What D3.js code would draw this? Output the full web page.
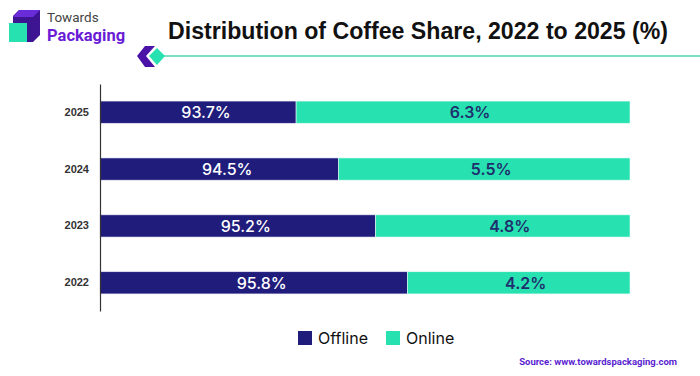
<!DOCTYPE html>
<html>
<head>
<meta charset="utf-8">
<script src="https://cdn.jsdelivr.net/npm/d3@7"></script>
<style>
  body { margin: 0; background: #fff; }
  svg { display: block; font-family: Inter, "Liberation Sans", Arial, sans-serif; }
</style>
</head>
<body>
<div id="chart"></div>
<script>
// data
const years = ["2025", "2024", "2023", "2022"];
const offline = [93.7, 94.5, 95.2, 95.8];
const online = [6.3, 5.5, 4.8, 4.2];
const seriesNames = ["Offline", "Online"];
const colors = ["#201c7c", "#27e2b0"];

const W = 700, H = 376;
const svg = d3.select("#chart").append("svg")
    .attr("width", W)
    .attr("height", H);

// logo
const logo = svg.append("g");
logo.append("path")
    .attr("d", "M13,16 L19,10 L40,10 L40,35 L33,42 L13,42 Z")
    .attr("fill", "#3d1592");
logo.append("path")
    .attr("d", "M19,10 L40,10 L33,17 L13,17 Z")
    .attr("fill", "#6a2bd9");
logo.append("rect")
    .attr("x", 9).attr("y", 23).attr("width", 18).attr("height", 19)
    .attr("fill", "#27e2b0");
logo.append("text")
    .attr("x", 47).attr("y", 22)
    .attr("font-family", "Roboto, sans-serif")
    .attr("font-size", 13.5)
    .attr("fill", "#444")
    .text("Towards");
logo.append("text")
    .attr("x", 47).attr("y", 41)
    .attr("font-family", "Roboto, sans-serif")
    .attr("font-weight", "bold")
    .attr("font-size", 16.5)
    .attr("fill", "#6a1bd6")
    .text("Packaging");

// title + decoration
svg.append("text")
    .attr("x", 168).attr("y", 39)
    .attr("font-family", "Liberation Sans, Arial, sans-serif")
    .attr("font-weight", "bold")
    .attr("font-size", 23)
    .attr("fill", "#111")
    .attr("textLength", 500)
    .attr("lengthAdjust", "spacingAndGlyphs")
    .text("Distribution of Coffee Share, 2022 to 2025 (%)");

svg.append("line")
    .attr("x1", 160).attr("x2", 700).attr("y1", 56).attr("y2", 56)
    .attr("stroke", "#4fd6b0").attr("stroke-width", 1.5);
svg.append("path")
    .attr("d", "M145,46 L155,46 L146,56 L155,67 L145,67 L137,56 Z")
    .attr("fill", "#4b12a8");
svg.append("path")
    .attr("d", "M157,48 L165,56 L157,65 L149,56 Z")
    .attr("fill", "#27e2b0");

// scales
const x = d3.scaleLinear().domain([90, 100]).range([100, 630]);
const y = d3.scaleBand().domain(years).range([84, 311]).paddingInner(0.61).paddingOuter(0.3);

const rows = years.map((yr, i) => ({ year: yr, offline: offline[i], online: online[i] }));

const bars = svg.append("g");
rows.forEach(d => {
    const yy = y(d.year), bw = y.bandwidth();
    bars.append("rect")
        .attr("x", x(90)).attr("y", yy)
        .attr("width", x(d.offline) - x(90)).attr("height", bw)
        .attr("fill", colors[0])
        .attr("stroke", "#e8e8f4").attr("stroke-width", 0.6);
    bars.append("rect")
        .attr("x", x(d.offline)).attr("y", yy)
        .attr("width", x(100) - x(d.offline)).attr("height", bw)
        .attr("fill", colors[1])
        .attr("stroke", "#e8fbf5").attr("stroke-width", 0.6);

    bars.append("text")
        .attr("x", (x(90) + x(d.offline)) / 2 + 8)
        .attr("y", yy + bw / 2)
        .attr("dy", "0.36em")
        .attr("text-anchor", "middle")
        .attr("font-size", 16)
        .attr("font-weight", 500)
        .attr("fill", "#fff")
        .text(d.offline.toFixed(1) + "%");
    bars.append("text")
        .attr("x", (x(d.offline) + x(100)) / 2 + 7)
        .attr("y", yy + bw / 2)
        .attr("dy", "0.36em")
        .attr("text-anchor", "middle")
        .attr("font-size", 16)
        .attr("font-weight", 600)
        .attr("fill", "#1f2f6e")
        .text(d.online.toFixed(1) + "%");
});

// y axis
const yAxis = d3.axisLeft(y).tickSize(0).tickPadding(11);
const gy = svg.append("g")
    .attr("transform", "translate(100,0)")
    .call(yAxis);
gy.select(".domain").attr("stroke", "#333").attr("stroke-width", 1.2);
gy.selectAll("text")
    .attr("font-family", "Liberation Sans, Arial, sans-serif")
    .attr("font-weight", "bold")
    .attr("font-size", 11)
    .attr("fill", "#333");

// legend
const legend = svg.append("g");
const legX = [298, 386];
seriesNames.forEach((name, i) => {
    legend.append("rect")
        .attr("x", legX[i]).attr("y", 331)
        .attr("width", 14).attr("height", 14)
        .attr("fill", colors[i]);
    legend.append("text")
        .attr("x", legX[i] + 20).attr("y", 338)
        .attr("dy", "0.36em")
        .attr("font-family", "Inter, sans-serif")
        .attr("font-size", 16)
        .attr("fill", "#111")
        .text(name);
});

// source
svg.append("text")
    .attr("x", 677).attr("y", 365)
    .attr("text-anchor", "end")
    .attr("font-family", "Roboto, sans-serif")
    .attr("font-weight", "bold")
    .attr("font-size", 9.5)
    .attr("fill", "#5a1ed0")
    .text("Source: www.towardspackaging.com");
</script>
</body>
</html>
